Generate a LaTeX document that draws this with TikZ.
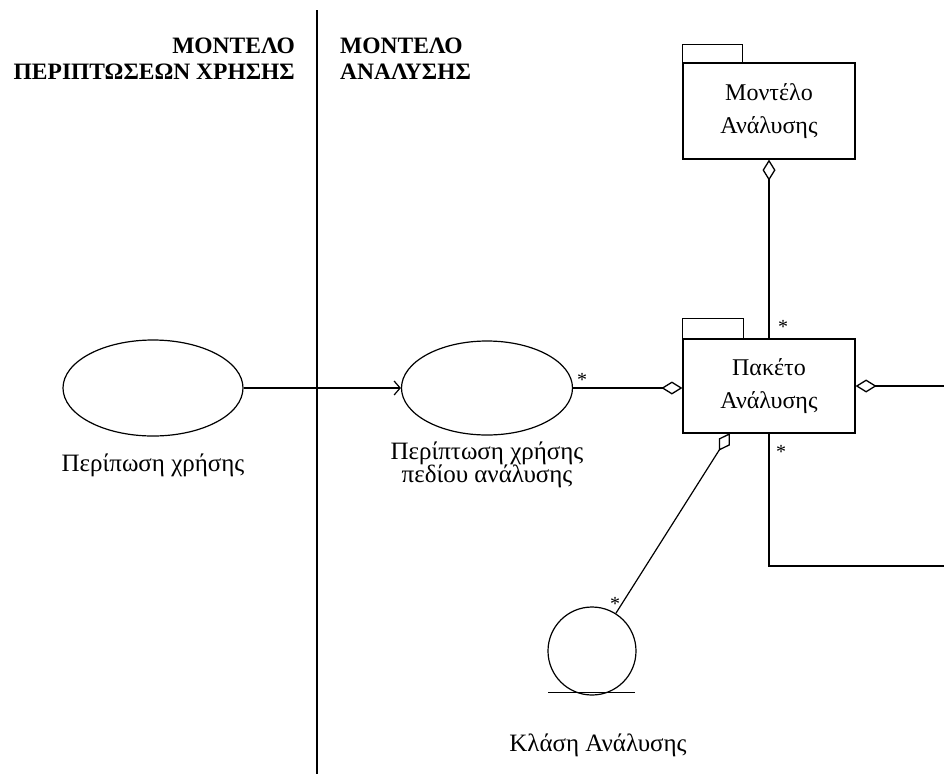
\documentclass[tikz,border=0pt]{standalone}
\usepackage{fontspec}
\setmainfont{Liberation Serif}
\usetikzlibrary{arrows.meta,shapes.geometric}
\tikzset{
  ln/.style={line width=1.2pt},
  pkg/.style={draw,line width=1.2pt,rectangle,inner sep=0pt,align=center,font=\fontsize{24}{33}\selectfont},
  uc/.style={draw,line width=1.2pt,ellipse,inner sep=0pt},
  lbl/.style={align=center,font=\fontsize{25}{23}\selectfont,inner sep=0pt},
  hdr/.style={font=\bfseries\fontsize{23.5}{26}\selectfont,inner sep=0pt},
  mult/.style={font=\fontsize{20}{20}\selectfont,inner sep=0pt},
  agg/.style={{Diamond[open,length=21pt,width=13pt,line width=1.3pt]}-},
}
\begin{document}
\begin{tikzpicture}[x=1pt,y=-1pt]
\useasboundingbox (0,0) rectangle (944,774);
% swimlane separator
\coordinate (vt) at (317,10);
\coordinate (vb) at (317,774);
\draw[ln] (vt) -- (vb);
% headers
\node[hdr,anchor=east] (h1) at (295,46) {ΜΟΝΤΕΛΟ};
\node[hdr,anchor=east] (h2) at (295,72) {ΠΕΡΙΠΤΩΣΕΩΝ ΧΡΗΣΗΣ};
\node[hdr,anchor=west] (h3) at (340,46) {ΜΟΝΤΕΛΟ};
\node[hdr,anchor=west] (h4) at (340,72) {ΑΝΑΛΥΣΗΣ};
% use cases
\node[uc,minimum width=180pt,minimum height=96pt] (uc1) at (153,388) {};
\node[lbl] (uc1l) at (153,465) {Περίπωση χρήσης};
\node[uc,minimum width=171pt,minimum height=94pt] (uc2) at (487,388) {};
\node[lbl] (uc2l) at (487,465) {Περίπτωση χρήσης\\πεδίου ανάλυσης};
% packages
\node[pkg,minimum width=172pt,minimum height=96pt] (p1) at (769,111) {Μοντέλο\\Ανάλυσης};
\draw[ln] (p1.north west) -- ++(0,-18) -- ++(60,0) -- ++(0,18);
\node[pkg,minimum width=172pt,minimum height=94pt] (p2) at (769,386) {Πακέτο\\Ανάλυσης};
\draw[ln] (p2.north west) -- ++(0,-20) -- ++(61,0) -- ++(0,20);
% analysis class
\node[uc,circle,minimum size=88pt] (cl) at (592,651) {};
\draw[ln] ([xshift=-44pt,yshift=3pt]cl.south) coordinate (ula) -- ([xshift=43pt,yshift=3pt]cl.south) coordinate (ulb);
\node[lbl] (cll) at (598,745) {Κλάση Ανάλυσης};
% connectors
\draw[ln,-{Straight Barb[length=6pt,width=14pt,line width=1.2pt]}] (uc1.east) -- (uc2.west);
\draw[ln,agg] (uc2.east -| p2.west) -- (uc2.east);
\node[mult] (m1) at (582,380) {*};
\draw[ln,agg] (p1.south) -- (p2.north);
\node[mult] (m2) at (783,327) {*};
\coordinate (e1) at (944,386);
\draw[ln,agg] (p2.east) -- (e1);
\coordinate (lp) at (769,566);
\coordinate (e2) at (944,566);
\draw[ln] (p2.south) -- (lp) -- (e2);
\node[mult] (m3) at (781,452) {*};
\coordinate (pd) at (730,433);
\draw[ln,agg] (pd) -- (cl);
\node[mult] (m4) at (615,604) {*};
\end{tikzpicture}
\end{document}
